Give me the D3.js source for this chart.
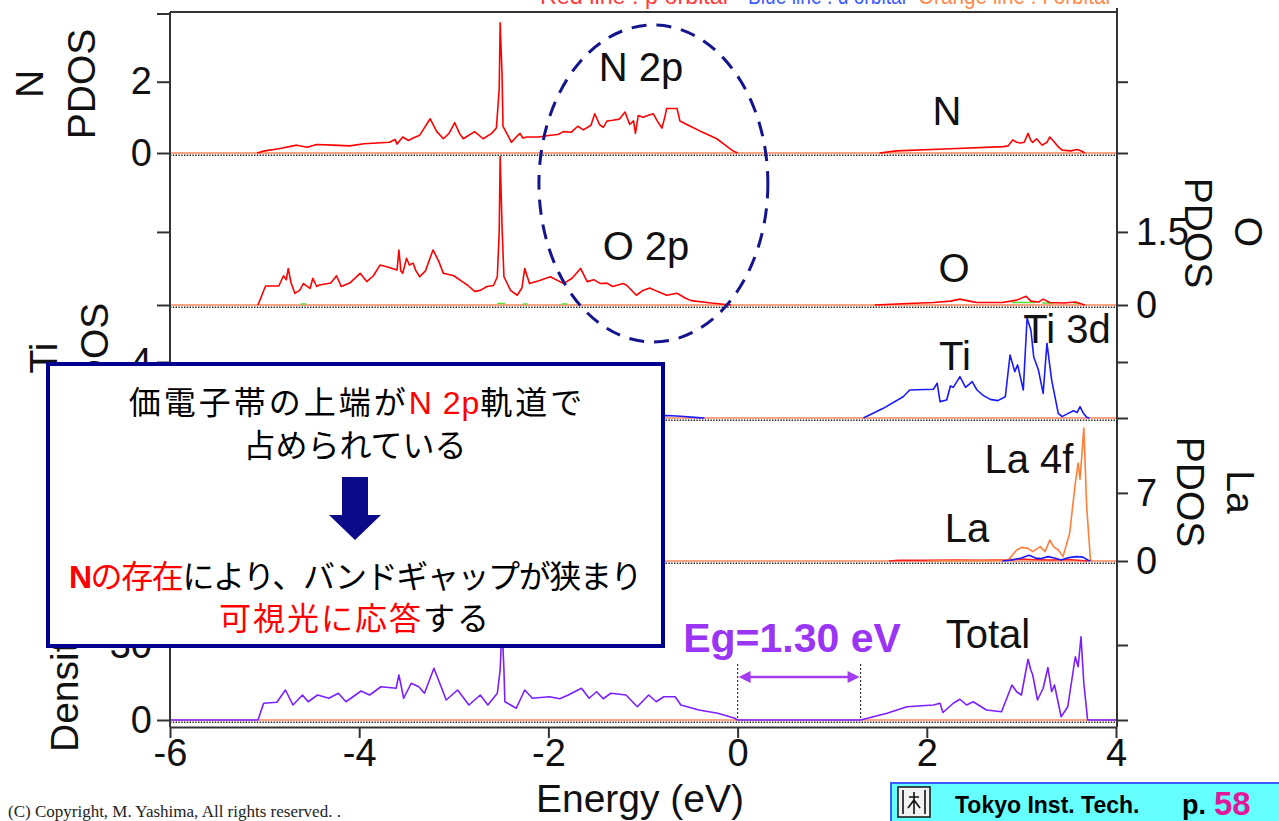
<!DOCTYPE html>
<html>
<head>
<meta charset="utf-8">
<script src="https://cdn.jsdelivr.net/npm/d3@7"></script>
<style>
  body { margin: 0; background: #fff; }
  svg { display: block; }
</style>
</head>
<body>
<svg id="chart" width="1279" height="821"></svg>
<script>
// ---- Energy axis ----
const energyTicks = [-6, -4, -2, 0, 2, 4];
const bandGap = 1.30; // eV

// ---- Axis tick values per panel ----
const nTicks = [0, 2];
const oTicks = [0, 1.5];
const tiTicks = [0, 4];
const laTicks = [0, 7];
const totalTicks = [0, 30];

// ---- N PDOS (p orbital) [energy eV, states/eV] ----
const nValence = [[-5.08,0],[-5.0,0.06],[-4.85,0.12],[-4.66,0.22],[-4.55,0.16],[-4.45,0.24],[-4.28,0.22],[-4.1,0.2],[-3.95,0.26],[-3.81,0.28],[-3.68,0.3],[-3.62,0.38],[-3.6,0.25],[-3.54,0.45],[-3.48,0.35],[-3.43,0.42],[-3.36,0.5],[-3.25,0.96],[-3.18,0.6],[-3.11,0.4],[-3.05,0.55],[-2.99,0.85],[-2.94,0.55],[-2.9,0.4],[-2.78,0.6],[-2.69,0.4],[-2.6,0.55],[-2.55,0.7],[-2.52,1.8],[-2.51,3.65],[-2.49,2.2],[-2.48,0.75],[-2.43,0.5],[-2.39,0.3],[-2.34,0.45],[-2.3,0.55],[-2.27,0.42],[-2.23,0.45],[-2.1,0.45],[-1.98,0.5],[-1.9,0.52],[-1.84,0.6],[-1.76,0.58],[-1.69,0.75],[-1.63,0.65],[-1.55,0.78],[-1.51,1.1],[-1.46,0.8],[-1.42,0.72],[-1.38,0.9],[-1.32,0.92],[-1.25,0.95],[-1.19,1.15],[-1.14,0.8],[-1.1,0.9],[-1.08,0.55],[-1.05,1.05],[-1.0,1.0],[-0.95,1.05],[-0.89,1.1],[-0.85,0.9],[-0.8,0.7],[-0.77,1.0],[-0.75,1.25],[-0.64,1.25],[-0.61,0.9],[-0.5,0.75],[-0.4,0.62],[-0.3,0.5],[-0.22,0.4],[-0.12,0.2],[-0.05,0.06],[0,0]];
const nConduction = [[1.5,0],[1.68,0.06],[2.25,0.12],[2.81,0.18],[2.86,0.2],[2.91,0.37],[2.95,0.3],[2.99,0.28],[3.03,0.3],[3.07,0.55],[3.1,0.35],[3.12,0.3],[3.16,0.4],[3.22,0.22],[3.27,0.3],[3.3,0.45],[3.35,0.3],[3.38,0.2],[3.43,0.08],[3.52,0.06],[3.59,0.1],[3.64,0.05],[3.67,0]];

// ---- O PDOS ----
const oValence = [[-5.07,0],[-4.99,0.39],[-4.85,0.39],[-4.8,0.6],[-4.77,0.52],[-4.75,0.75],[-4.72,0.45],[-4.68,0.24],[-4.63,0.3],[-4.59,0.44],[-4.52,0.34],[-4.49,0.55],[-4.45,0.38],[-4.42,0.41],[-4.3,0.45],[-4.24,0.6],[-4.19,0.38],[-4.1,0.45],[-3.99,0.65],[-3.92,0.48],[-3.85,0.6],[-3.78,0.82],[-3.7,0.78],[-3.6,0.72],[-3.58,1.13],[-3.56,0.7],[-3.54,0.65],[-3.5,0.96],[-3.47,0.82],[-3.43,0.86],[-3.4,0.7],[-3.36,0.58],[-3.3,0.7],[-3.22,1.13],[-3.16,0.9],[-3.11,0.65],[-3.0,0.6],[-2.91,0.48],[-2.85,0.4],[-2.78,0.28],[-2.72,0.3],[-2.65,0.38],[-2.58,0.4],[-2.54,0.58],[-2.52,1.5],[-2.51,3.05],[-2.49,1.6],[-2.47,0.58],[-2.4,0.3],[-2.33,0.2],[-2.28,0.35],[-2.25,0.75],[-2.2,0.44],[-2.1,0.5],[-1.98,0.58],[-1.9,0.5],[-1.84,0.44],[-1.75,0.55],[-1.66,0.75],[-1.59,0.48],[-1.52,0.52],[-1.45,0.44],[-1.38,0.45],[-1.32,0.38],[-1.21,0.44],[-1.17,0.4],[-1.07,0.2],[-1.0,0.3],[-0.93,0.35],[-0.85,0.28],[-0.75,0.2],[-0.64,0.24],[-0.55,0.14],[-0.49,0.09],[-0.28,0.04],[-0.07,0]];
const oConduction = [[1.45,0],[1.8,0.03],[2.07,0.05],[2.25,0.08],[2.35,0.12],[2.45,0.08],[2.53,0.05],[2.8,0.05],[2.95,0.1],[3.05,0.18],[3.1,0.08],[3.18,0.06],[3.23,0.12],[3.3,0.05],[3.45,0.04],[3.57,0.06],[3.67,0]];
const oS = [[-4.62,0.02],[-4.56,0.02],null,[-2.54,0.03],[-2.46,0.03],null,[-2.27,0.02],[-2.22,0.02],null,[-1.86,0.02],[-1.8,0.02],null,[2.9,0.05],[3.15,0.05],null,[3.22,0.04],[3.35,0.04],null,[3.55,0.04],[3.62,0.04]];

// ---- Ti PDOS (d orbital) ----
const tiValence = [[-5.05,0],[-4.9,0.12],[-4.0,0.15],[-3.0,0.18],[-2.0,0.15],[-1.0,0.16],[-0.75,0.18],[-0.6,0.12],[-0.42,0.03],[-0.35,0]];
const tiConduction = [[1.33,0],[1.54,0.69],[1.75,1.52],[1.82,2.0],[2.07,2.05],[2.11,2.48],[2.14,1.17],[2.21,1.29],[2.25,2.29],[2.28,2.19],[2.35,2.95],[2.41,2.19],[2.48,2.6],[2.53,2.0],[2.6,1.6],[2.67,1.33],[2.75,1.24],[2.83,1.52],[2.88,4.5],[2.93,3.31],[2.96,3.79],[3.02,2.0],[3.06,7.12],[3.1,6.29],[3.13,4.38],[3.18,3.43],[3.23,1.76],[3.27,5.33],[3.32,2.71],[3.39,0.33],[3.43,0.1],[3.5,0.35],[3.55,0.52],[3.59,0.4],[3.62,0.81],[3.65,0.4],[3.69,0.05],[3.72,0]];

// ---- La PDOS ----
const laF = [[2.0,0],[2.3,0.05],[2.6,0.05],[2.86,0.1],[2.95,1.13],[3.0,1.4],[3.07,1.3],[3.12,0.96],[3.2,1.48],[3.25,0.96],[3.3,2.16],[3.34,1.48],[3.39,1.13],[3.44,0.45],[3.51,2.85],[3.57,8.0],[3.6,10.06],[3.62,8.4],[3.66,13.66],[3.69,5.6],[3.73,0.1],[3.75,0]];
const laD = [[2.8,0],[2.9,0.1],[3.0,0.3],[3.08,0.58],[3.15,0.3],[3.2,0.24],[3.28,0.45],[3.35,0.3],[3.42,0.1],[3.5,0.35],[3.58,0.45],[3.65,0.4],[3.7,0.1],[3.73,0]];
const laP = [[1.6,0],[1.7,0.08],[2.0,0.06],[2.3,0.1],[2.6,0.08],[2.85,0.12],[3.0,0.2],[3.1,0.15],[3.3,0.1],[3.5,0.15],[3.7,0]];

// ---- Total DOS ----
const totalDos = [[-6,0],[-5.07,0],[-5.01,6.7],[-4.87,7.1],[-4.78,12],[-4.7,6],[-4.6,10],[-4.54,7.3],[-4.44,10],[-4.32,8.7],[-4.22,10.7],[-4.14,7.3],[-3.98,11.6],[-3.89,10],[-3.77,13.3],[-3.61,12.7],[-3.58,18],[-3.53,8.7],[-3.45,14.7],[-3.37,13.3],[-3.31,10.7],[-3.21,20.7],[-3.08,8],[-2.96,12],[-2.84,6],[-2.72,10],[-2.64,6],[-2.54,10.7],[-2.51,20],[-2.49,38],[-2.47,20],[-2.46,7.3],[-2.34,4.7],[-2.25,12],[-2.17,8.7],[-1.99,9.3],[-1.88,8.5],[-1.79,10],[-1.65,12.7],[-1.57,8.7],[-1.49,11.3],[-1.42,8.5],[-1.34,10.7],[-1.18,10],[-1.06,5.3],[-0.94,10],[-0.86,7.3],[-0.78,9.3],[-0.66,9.3],[-0.6,6],[-0.41,4],[-0.21,2.7],[-0.03,0.7],[0,0],[1.30,0],[1.58,2.7],[1.79,5.3],[2.07,6],[2.14,6.7],[2.17,3],[2.28,6.7],[2.35,8.3],[2.42,6],[2.49,7.3],[2.63,4],[2.79,3.3],[2.9,14],[2.95,11.3],[3.0,10],[3.07,24.3],[3.1,20],[3.12,18],[3.17,8],[3.23,12.7],[3.28,21],[3.32,11.3],[3.35,14],[3.42,1.3],[3.49,5.3],[3.57,25.3],[3.6,21.3],[3.63,33.3],[3.66,14.7],[3.7,0],[4,0]];

// ---- Drawing ----
const sans = '"Liberation Sans", Arial, sans-serif';
const jp = '"Noto Sans CJK JP", sans-serif';
const svg = d3.select('#chart');

const x = d3.scaleLinear().domain([-6, 4]).range([170, 1116]);
const frameTop = 12, frameBottom = 727, frameLeft = 170, frameRight = 1117;

// Stacked panels, each with its own vertical scale
const panels = {
  N:     { y: d3.scaleLinear().domain([0, 3.9]).range([153, 14]),  ticks: nTicks,     side: 'left'  },
  O:     { y: d3.scaleLinear().domain([0, 3.1]).range([305, 154]), ticks: oTicks,     side: 'right' },
  Ti:    { y: d3.scaleLinear().domain([0, 8.07]).range([418, 305]), ticks: tiTicks,   side: 'left'  },
  La:    { y: d3.scaleLinear().domain([0, 14.7]).range([561, 418]), ticks: laTicks,   side: 'right' },
  Total: { y: d3.scaleLinear().domain([0, 63.6]).range([720, 561]), ticks: totalTicks, side: 'left' }
};

// Legend line (top edge, partly outside the page)
const legend = svg.append('g').attr('font-family', sans).attr('font-size', 24);
[['Red line : p orbital', '#ff3b3b', 540, 188],
 ['Blue line : d orbital', '#3d5cff', 748, 158],
 ['Orange line : f orbital', '#ff8a4a', 918, 192]].forEach(([t, c, lx, w]) => {
  legend.append('text').attr('x', lx).attr('y', 4).attr('fill', c)
    .attr('textLength', w).attr('lengthAdjust', 'spacingAndGlyphs').text(t);
});

// Zero lines of each panel
Object.values(panels).forEach(p => {
  const y0 = p.y(0);
  svg.append('line').attr('x1', frameLeft).attr('x2', frameRight).attr('y1', y0).attr('y2', y0)
    .attr('stroke', '#ffa585').attr('stroke-width', 2);
  svg.append('line').attr('x1', frameLeft).attr('x2', frameRight).attr('y1', y0 + 2.2).attr('y2', y0 + 2.2)
    .attr('stroke', '#222').attr('stroke-width', 1.6).attr('stroke-dasharray', '1.4,1.4');
});

// Curves
const series = [
  { data: oS, panel: 'O', color: '#55dd33' },
  { data: nValence, panel: 'N', color: '#ff0000' },
  { data: nConduction, panel: 'N', color: '#ff0000' },
  { data: oValence, panel: 'O', color: '#ff0000' },
  { data: oConduction, panel: 'O', color: '#ff0000' },
  { data: tiValence, panel: 'Ti', color: '#1a1aff' },
  { data: tiConduction, panel: 'Ti', color: '#1a1aff' },
  { data: laP, panel: 'La', color: '#ff2020' },
  { data: laF, panel: 'La', color: '#ff7f3a' },
  { data: laD, panel: 'La', color: '#1a1aff' },
  { data: totalDos, panel: 'Total', color: '#7b1fff' }
];
series.forEach(s => {
  const ys = panels[s.panel].y;
  const line = d3.line().defined(d => d != null).x(d => x(d[0])).y(d => ys(d[1]));
  svg.append('path').datum(s.data).attr('d', line)
    .attr('fill', 'none').attr('stroke', s.color).attr('stroke-width', 1.6)
    .attr('stroke-linejoin', 'round');
});

// Frame
const frame = svg.append('g').attr('stroke', '#333').attr('stroke-width', 2).attr('fill', 'none');
frame.append('line').attr('x1', frameLeft).attr('x2', frameRight).attr('y1', frameTop).attr('y2', frameTop);
frame.append('line').attr('x1', frameLeft).attr('x2', frameLeft).attr('y1', frameTop).attr('y2', frameBottom);
frame.append('line').attr('x1', frameRight).attr('x2', frameRight).attr('y1', frameTop - 4).attr('y2', frameBottom);

// Vertical axes of each panel (labels on one side, mirrored ticks on the other)
function styleAxis(g) {
  g.select('.domain').remove();
  g.selectAll('.tick line').attr('stroke', '#333').attr('stroke-width', 2);
  g.selectAll('.tick text').attr('font-family', sans).attr('font-size', 38).attr('fill', '#111');
}
Object.values(panels).forEach(p => {
  const fmt = d => String(d);
  const left = d3.axisLeft(p.y).tickValues(p.ticks).tickSize(13).tickPadding(5)
    .tickFormat(p.side === 'left' ? fmt : () => '');
  const right = d3.axisRight(p.y).tickValues(p.ticks).tickSize(11).tickPadding(8)
    .tickFormat(p.side === 'right' ? fmt : () => '');
  svg.append('g').attr('transform', `translate(${frameLeft},0)`).call(left).call(styleAxis);
  svg.append('g').attr('transform', `translate(${frameRight},0)`).call(right).call(styleAxis);
});
// top tick of the N panel
svg.append('line').attr('x1', frameLeft - 13).attr('x2', frameLeft)
  .attr('y1', panels.N.y.range()[1]).attr('y2', panels.N.y.range()[1])
  .attr('stroke', '#333').attr('stroke-width', 2);

// Energy axis
const xAxis = d3.axisBottom(x).tickValues(energyTicks).tickSize(11).tickSizeOuter(0).tickPadding(1)
  .tickFormat(d => String(d));
svg.append('g').attr('transform', `translate(0,${frameBottom})`).call(xAxis)
  .call(g => {
    g.select('.domain').attr('stroke', '#333').attr('stroke-width', 2);
    g.selectAll('.tick line').attr('stroke', '#333').attr('stroke-width', 2);
    g.selectAll('.tick text').attr('font-family', sans).attr('font-size', 38).attr('fill', '#111');
  });
svg.append('text').attr('x', 640).attr('y', 812).attr('text-anchor', 'middle')
  .attr('font-family', sans).attr('font-size', 39).attr('fill', '#111').text('Energy (eV)');

// Axis titles
function rotLabel(tx, ty, angle, text, anchor = 'middle') {
  svg.append('text').attr('transform', `translate(${tx},${ty}) rotate(${angle})`)
    .attr('text-anchor', anchor).attr('font-family', sans).attr('font-size', 39)
    .attr('fill', '#111').text(text);
}
rotLabel(43, 84, -90, 'N');
rotLabel(95, 84, -90, 'PDOS');
rotLabel(57, 358, -90, 'Ti');
rotLabel(108, 358, -90, 'PDOS');
rotLabel(78, 752, -90, 'Density of states', 'start');
rotLabel(1235, 232, 90, 'O');
rotLabel(1185, 233, 90, 'PDOS');
rotLabel(1227, 492, 90, 'La');
rotLabel(1177, 492, 90, 'PDOS');

// Panel annotations
const ann = svg.append('g').attr('font-family', sans).attr('font-size', 40)
  .attr('fill', '#111').attr('text-anchor', 'middle');
[['N 2p', 641, 81], ['N', 947, 125], ['O 2p', 646, 260], ['O', 954, 282],
 ['Ti', 955, 370], ['Ti 3d', 1067, 343], ['La 4f', 1029, 473], ['La', 967, 542],
 ['Total', 988, 648]].forEach(([t, ax, ay]) => {
  ann.append('text').attr('x', ax).attr('y', ay).text(t);
});

// Dashed ellipse around the valence-band top
const ellE = [-2.1, 0.32];
svg.append('ellipse')
  .attr('cx', (x(ellE[0]) + x(ellE[1])) / 2).attr('cy', 183.5)
  .attr('rx', (x(ellE[1]) - x(ellE[0])) / 2).attr('ry', 158.5)
  .attr('fill', 'none').attr('stroke', '#14148f').attr('stroke-width', 3)
  .attr('stroke-dasharray', '15,10');

// Band gap marker
const gapY = 677;
const eg = svg.append('g');
[0, bandGap].forEach(e => {
  eg.append('line').attr('x1', x(e)).attr('x2', x(e)).attr('y1', 664).attr('y2', 720)
    .attr('stroke', '#333').attr('stroke-width', 1.2).attr('stroke-dasharray', '2,2');
});
eg.append('line').attr('x1', x(0) + 8).attr('x2', x(bandGap) - 8).attr('y1', gapY).attr('y2', gapY)
  .attr('stroke', '#a23cf0').attr('stroke-width', 2.5);
eg.append('path').attr('fill', '#a23cf0')
  .attr('d', `M${x(0) + 1},${gapY} l12,-6 l0,12 z M${x(bandGap) - 1},${gapY} l-12,-6 l0,12 z`);
eg.append('text').attr('x', 792).attr('y', 652).attr('text-anchor', 'middle')
  .attr('font-family', sans).attr('font-size', 41).attr('font-weight', 'bold')
  .attr('fill', '#9b35f5').text(`Eg=${bandGap.toFixed(2)} eV`);

// Explanation box
const box = svg.append('g');
box.append('rect').attr('x', 48).attr('y', 364).attr('width', 615).attr('height', 282)
  .attr('fill', '#fff').attr('stroke', '#000090').attr('stroke-width', 4);
const bx = 355;
const l1 = box.append('text').attr('x', bx + 2).attr('y', 414).attr('text-anchor', 'middle')
  .attr('font-family', jp).attr('font-size', 32).attr('fill', '#000');
l1.append('tspan').attr('letter-spacing', 3).text('価電子帯の上端が');
l1.append('tspan').attr('fill', '#ff0000').attr('font-family', sans).attr('letter-spacing', 1).text('N 2p');
l1.append('tspan').attr('letter-spacing', 3).text('軌道で');
box.append('text').attr('x', bx).attr('y', 457).attr('text-anchor', 'middle')
  .attr('font-family', jp).attr('font-size', 32).attr('fill', '#000').text('占められている');
box.append('path').attr('fill', '#0b0b8a')
  .attr('d', `M${bx - 13},477 h26 v38 h13 l-26,25 l-26,-25 h13 z`);
const l3 = box.append('text').attr('x', bx).attr('y', 588).attr('text-anchor', 'middle')
  .attr('font-family', jp).attr('font-size', 32).attr('letter-spacing', -1.4).attr('fill', '#000');
l3.append('tspan').attr('fill', '#ff0000').attr('font-weight', 'bold').attr('font-family', sans).text('N');
l3.append('tspan').attr('fill', '#ff0000').text('の存在');
l3.append('tspan').text('により、バンドギャップが狭まり');
const l4 = box.append('text').attr('x', bx).attr('y', 630).attr('text-anchor', 'middle')
  .attr('font-family', jp).attr('font-size', 32).attr('letter-spacing', 2).attr('fill', '#000');
l4.append('tspan').attr('fill', '#ff0000').text('可視光に応答');
l4.append('tspan').text('する');

// Footer
svg.append('text').attr('x', 8).attr('y', 817).attr('font-family', '"Liberation Serif", serif')
  .attr('font-size', 17).attr('fill', '#222').text('(C) Copyright, M. Yashima, All rights reserved. .');
const logo = svg.append('g');
logo.append('rect').attr('x', 891).attr('y', 783).attr('width', 400).attr('height', 42)
  .attr('fill', '#66ffff').attr('stroke', '#3a5cff').attr('stroke-width', 2);
logo.append('rect').attr('x', 898).attr('y', 787).attr('width', 32).attr('height', 30)
  .attr('fill', '#f2f2f2').attr('stroke', '#111').attr('stroke-width', 1.5);
logo.append('path').attr('fill', 'none').attr('stroke', '#111').attr('stroke-width', 1.6)
  .attr('d', 'M903,790 v24 M925,790 v24 M914,792 v22 M914,800 l-6,8 M914,800 l6,8 M909,797 h10');
logo.append('text').attr('x', 955).attr('y', 813).attr('font-family', sans).attr('font-weight', 'bold')
  .attr('font-size', 23).attr('fill', '#000').text('Tokyo Inst. Tech.');
logo.append('text').attr('x', 1182).attr('y', 814).attr('font-family', sans).attr('font-weight', 'bold')
  .attr('font-size', 27).attr('fill', '#000').text('p.');
logo.append('text').attr('x', 1214).attr('y', 815).attr('font-family', sans).attr('font-weight', 'bold')
  .attr('font-size', 33).attr('fill', '#e0189c').text('58');
</script>
</body>
</html>
